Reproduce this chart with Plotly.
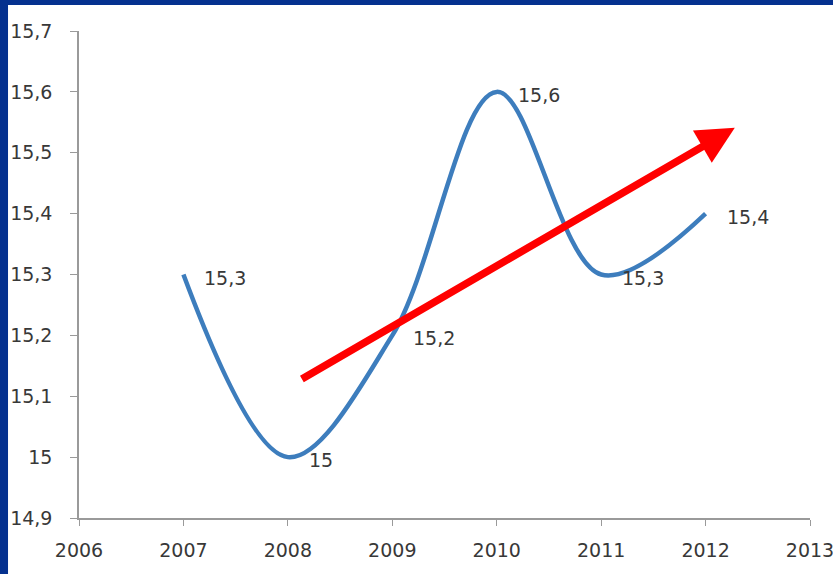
import plotly.graph_objects as go

years = [2007, 2008, 2009, 2010, 2011, 2012]
values = [15.3, 15.0, 15.2, 15.6, 15.3, 15.4]
labels = [("%g" % v).replace(".", ",") for v in values]
x_ticks = [2006, 2007, 2008, 2009, 2010, 2011, 2012, 2013]
y_ticks = [14.9, 15.0, 15.1, 15.2, 15.3, 15.4, 15.5, 15.6, 15.7]
y_ticklabels = [("%g" % v).replace(".", ",") for v in y_ticks]
arrow_start = (2008.12, 15.127)
arrow_end = (2012.28, 15.541)

font = "'DejaVu Sans', Verdana, sans-serif"
text_color = "#383838"

fig = go.Figure()
fig.add_trace(go.Scatter(
    x=years, y=values, mode="lines",
    line=dict(color="#3d7dbd", width=4.5, shape="spline", smoothing=1.0),
    hoverinfo="skip", showlegend=False,
))

for xv, yv, lab in zip(years, values, labels):
    fig.add_annotation(
        x=xv, y=yv, xref="x", yref="y", text=lab, showarrow=False,
        xanchor="left", yanchor="middle", xshift=19, yshift=-3,
        font=dict(family=font, size=19, color=text_color),
    )

fig.add_annotation(
    x=arrow_end[0], y=arrow_end[1], ax=arrow_start[0], ay=arrow_start[1],
    xref="x", yref="y", axref="x", ayref="y",
    showarrow=True, arrowhead=2, arrowsize=1.0, arrowwidth=7.5,
    arrowcolor="#ff0000", text="",
)

# white panel over the blue frame
fig.add_shape(type="rect", xref="paper", yref="paper",
              x0=-0.0971, x1=1.1, y0=-0.2, y1=1.0534,
              fillcolor="white", line_width=0, layer="below")

fig.update_layout(
    width=833, height=574,
    margin=dict(l=79, r=23, t=31, b=56),
    paper_bgcolor="#05318f",
    plot_bgcolor="rgba(0,0,0,0)",
    separators=", ",
    font=dict(family=font, size=19, color=text_color),
    xaxis=dict(range=[2006, 2013], tickvals=x_ticks, showgrid=False,
               zeroline=False, showline=True, linecolor="#9a9a9a", linewidth=1.5,
               ticks="outside", ticklen=6, tickcolor="#9a9a9a", automargin=False,
               ticklabeloverflow="allow",
               ticklabelstandoff=8, tickfont=dict(family=font, size=19, color=text_color)),
    yaxis=dict(range=[14.9, 15.7], tickvals=y_ticks, ticktext=y_ticklabels,
               showgrid=False, zeroline=False, showline=True,
               linecolor="#9a9a9a", linewidth=1.5, automargin=False,
               ticks="outside", ticklen=7, tickcolor="#9a9a9a",
               ticklabelstandoff=14, tickfont=dict(family=font, size=19, color=text_color)),
)

fig.write_html("out.html", config={"displayModeBar": False},
               post_script="document.body.style.margin='0';document.body.style.overflow='hidden';")
